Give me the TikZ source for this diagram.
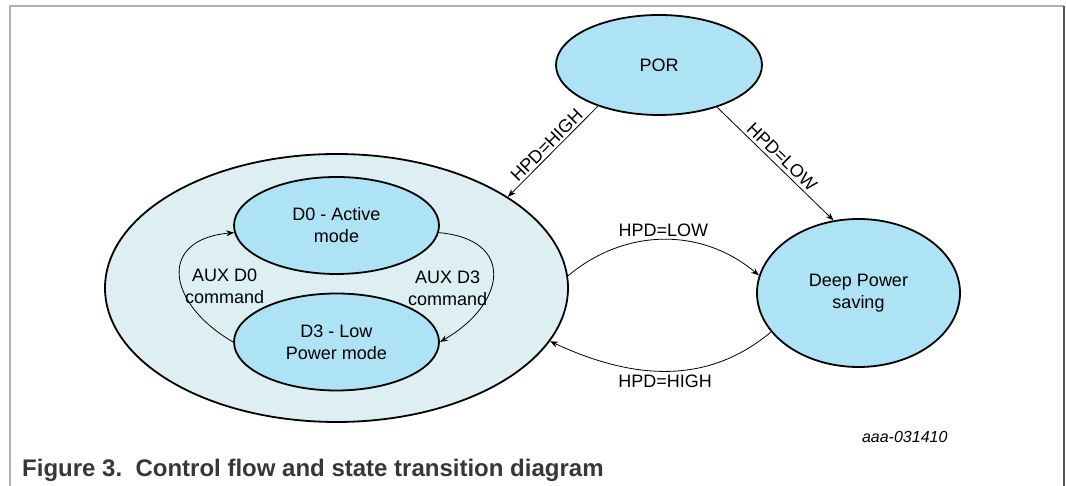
\documentclass[tikz,border=0pt]{standalone}
\usepackage{fontspec}
\setmainfont{Liberation Sans}
\usepackage{tikz}
\usetikzlibrary{arrows.meta}
\usetikzlibrary{shapes}
\definecolor{stateblue}{RGB}{173,227,245}
\definecolor{groupblue}{RGB}{221,239,243}
\definecolor{framegray}{RGB}{176,176,176}
\definecolor{framedark}{RGB}{85,85,85}
\definecolor{captiongray}{RGB}{55,55,55}

\begin{document}
\begin{tikzpicture}[x=1pt, y=1pt, >={Stealth[length=8pt, width=6pt]},
		state/.style={ellipse, draw, line width=1.8pt, fill=stateblue, inner sep=0pt, align=center, font=\fontsize{18}{22}\selectfont},
		trans/.style={line width=0.8pt},
		cond/.style={font=\fontsize{18}{22}\selectfont, align=center, inner sep=3pt}]
		\useasboundingbox (0,0) rectangle (1066,486);
		
		% frame
		\draw[framegray, line width=1.5pt] (10,0) -- (10,480) -- (1064,480);
		\draw[framedark, line width=1.8pt] (1064,480) -- (1064,0);
		
		\node[state, fill=groupblue, minimum width=463pt, minimum height=268pt] (normal) at (336.5,198) {};
		\node[state, minimum width=205pt, minimum height=97pt] (D0) at (336.5,260.5) {D0 - Active\\mode};
		\node[state, minimum width=205pt, minimum height=97pt] (D3) at (336.5,144) {D3 - Low\\Power mode};
		\node[state, minimum width=206pt, minimum height=100pt] (POR) at (659,421) {POR};
		\node[state, minimum width=203pt, minimum height=148pt] (deep) at (858.5,193) {Deep Power\\saving};
		
		\draw[trans, ->] (D3.west) to[out=150, in=185, looseness=1.8] node[cond, right, pos=0.42] {AUX D0\\command} (D0.184);
		\draw[trans, ->] (D0.-4) to[out=-5, in=30, looseness=1.8] node[cond, left, pos=0.6] {AUX D3\\command} (D3.east);
		
		\draw[trans, <-] (normal.28) -- node[cond, sloped, above, inner sep=2pt] {HPD=HIGH} (POR.214);
		\draw[trans, ->] (POR.324) -- node[cond, sloped, above, inner sep=3pt] {HPD=LOW} (deep.109);
		\draw[trans, ->] (normal.3) to[out=40, in=140] node[cond, above] {HPD=LOW} (deep.170);
		\draw[trans, ->] (deep.204) to[out=220, in=-25] node[cond, below] {HPD=HIGH} (normal.-14);
		
		\node[font=\itshape\fontsize{16}{19}\selectfont, anchor=base east] (docid) at (951,43) {aaa-031410};
		\node[font=\bfseries\fontsize{24}{27}\selectfont, text=captiongray, anchor=base west, inner sep=0pt] (caption) at (22,9) {Figure 3.\ \ Control flow and state transition diagram};
\end{tikzpicture}
\end{document}
